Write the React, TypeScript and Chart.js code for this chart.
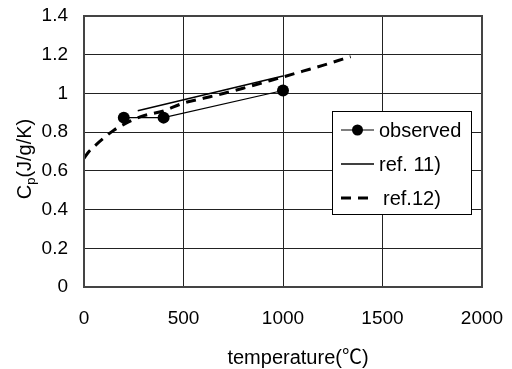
import React, { useEffect, useRef } from "react";
import { Chart, registerables } from "chart.js";

Chart.register(...registerables);

const obsTemp = [200, 400, 1000];
const obsCp = [0.875, 0.875, 1.015];

const ref11Temp = [270, 1000];
const ref11Cp = [0.91, 1.09];

const ref12Temp = [0, 25, 50, 100, 150, 200, 250, 300, 400, 500, 600, 700, 800, 900, 1000, 1100, 1200, 1300, 1340];
const ref12Cp = [0.665, 0.7, 0.725, 0.77, 0.81, 0.84, 0.865, 0.885, 0.91, 0.95, 0.975, 1.0, 1.027, 1.056, 1.085, 1.115, 1.145, 1.177, 1.19];

const xTicks = [0, 500, 1000, 1500, 2000];
const yTicks = [0, 0.2, 0.4, 0.6, 0.8, 1, 1.2, 1.4];

const legendLabels = ["observed", "ref. 11)", "ref.12)"];
const xTitle = "temperature(℃)";
const yTitleMain = "C";
const yTitleSub = "p";
const yTitleRest = "(J/g/K)";

const FONT = '"Liberation Sans", Arial, "Noto Sans CJK JP", sans-serif';

const toXY = (xs: number[], ys: number[]) => xs.map((x, i) => ({ x, y: ys[i] }));

const customPlugin = {
  id: "custom",
  afterDraw(chart: any) {
    const ctx = chart.ctx as CanvasRenderingContext2D;
    ctx.save();
    // x title
    ctx.fillStyle = "#000";
    ctx.font = `20px ${FONT}`;
    ctx.textAlign = "center";
    ctx.textBaseline = "alphabetic";
    ctx.fillText(xTitle, 298, 364);
    // y title with subscript
    ctx.save();
    ctx.translate(24, 159);
    ctx.rotate(-Math.PI / 2);
    const mainFont = `20px ${FONT}`;
    const subFont = `13px ${FONT}`;
    ctx.font = mainFont;
    const w1 = ctx.measureText(yTitleMain).width;
    const w3 = ctx.measureText(yTitleRest).width;
    ctx.font = subFont;
    const w2 = ctx.measureText(yTitleSub).width;
    const total = w1 + w2 + w3;
    let x0 = -total / 2;
    ctx.textAlign = "left";
    ctx.textBaseline = "alphabetic";
    ctx.font = mainFont;
    ctx.fillText(yTitleMain, x0, 7);
    x0 += w1;
    ctx.font = subFont;
    ctx.fillText(yTitleSub, x0, 11);
    x0 += w2;
    ctx.font = mainFont;
    ctx.fillText(yTitleRest, x0, 7);
    ctx.restore();

    // legend
    const bx = 332, by = 111, bw = 139, bh = 103;
    ctx.fillStyle = "#fff";
    ctx.fillRect(bx, by, bw, bh);
    ctx.strokeStyle = "#000";
    ctx.lineWidth = 1;
    ctx.strokeRect(bx + 0.5, by + 0.5, bw, bh);
    const rows = [130, 164, 198];
    const ds = chart.data.datasets;
    ctx.font = `20px ${FONT}`;
    ctx.textBaseline = "middle";
    ctx.textAlign = "left";
    rows.forEach((ry: number, i: number) => {
      const d = ds[i];
      ctx.save();
      ctx.strokeStyle = "#000";
      ctx.lineWidth = d.borderWidth;
      ctx.setLineDash(d.borderDash || []);
      ctx.beginPath();
      ctx.moveTo(341, ry);
      ctx.lineTo(374, ry);
      ctx.stroke();
      ctx.restore();
      if (d.pointRadius > 0) {
        ctx.fillStyle = "#000";
        ctx.beginPath();
        ctx.arc(357.5, ry, 5.5, 0, Math.PI * 2);
        ctx.fill();
      }
      ctx.fillStyle = "#000";
      ctx.fillText(legendLabels[i], i === 2 ? 383 : 379, ry + 1);
    });
    ctx.restore();
  },
};

export default function App() {
  const ref = useRef<HTMLCanvasElement | null>(null);
  useEffect(() => {
    if (!ref.current) return;
    const chart = new Chart(ref.current, {
      type: "scatter",
      data: {
        datasets: [
          {
            label: legendLabels[0],
            data: toXY(obsTemp, obsCp),
            showLine: true,
            borderColor: "#000",
            backgroundColor: "#000",
            borderWidth: 1.2,
            pointRadius: 6,
            pointHoverRadius: 6,
            pointBackgroundColor: "#000",
            pointBorderWidth: 0,
          },
          {
            label: legendLabels[1],
            data: toXY(ref11Temp, ref11Cp),
            showLine: true,
            borderColor: "#000",
            borderWidth: 1.5,
            pointRadius: 0,
          },
          {
            label: legendLabels[2],
            data: toXY(ref12Temp, ref12Cp),
            showLine: true,
            borderColor: "#000",
            borderWidth: 3,
            borderDash: [10, 7],
            pointRadius: 0,
            cubicInterpolationMode: "monotone",
          },
        ] as any,
      },
      options: {
        animation: false,
        responsive: false,
        events: [],
        layout: { padding: { top: 16, right: 30, left: 0, bottom: 0 } },
        plugins: {
          legend: { display: false },
          tooltip: { enabled: false },
        },
        scales: {
          x: {
            type: "linear",
            min: 0,
            max: 2000,
            afterBuildTicks: (s: any) => {
              s.ticks = xTicks.map((v) => ({ value: v }));
            },
            afterFit: (s: any) => {
              s.height = 82;
              s.paddingLeft = 0;
              s.paddingRight = 0;
              s.paddingTop = 0;
              s.paddingBottom = 0;
            },
            ticks: {
              color: "#000",
              font: { family: FONT, size: 19 },
              padding: 20,
              maxRotation: 0,
              callback: (v: any) => String(v),
            },
            grid: { color: "#222", lineWidth: 1, drawTicks: false },
            border: { color: "#444", width: 1.5 },
          },
          y: {
            type: "linear",
            min: 0,
            max: 1.4,
            afterBuildTicks: (s: any) => {
              s.ticks = yTicks.map((v) => ({ value: v }));
            },
            afterFit: (s: any) => {
              s.width = 84;
              s.paddingLeft = 0;
              s.paddingRight = 0;
              s.paddingTop = 0;
              s.paddingBottom = 0;
            },
            ticks: {
              color: "#000",
              font: { family: FONT, size: 19 },
              padding: 16,
              callback: (v: any) => String(Number(Number(v).toFixed(1))),
            },
            grid: { color: "#222", lineWidth: 1, drawTicks: false },
            border: { color: "#444", width: 1.5 },
          },
        },
      },
      plugins: [
        customPlugin,
        {
          id: "frame",
          afterDatasetsDraw(chart: any) {
            const { ctx, chartArea: ca } = chart;
            ctx.save();
            ctx.strokeStyle = "#444";
            ctx.lineWidth = 2;
            ctx.strokeRect(ca.left, ca.top, ca.right - ca.left, ca.bottom - ca.top);
            ctx.restore();
          },
        },
      ],
    } as any);
    return () => chart.destroy();
  }, []);
  return (
    <div style={{ position: "absolute", left: 0, top: 0, width: 512, height: 369, background: "#fff" }}>
      <canvas ref={ref} width={512} height={369} style={{ display: "block" }} />
    </div>
  );
}
